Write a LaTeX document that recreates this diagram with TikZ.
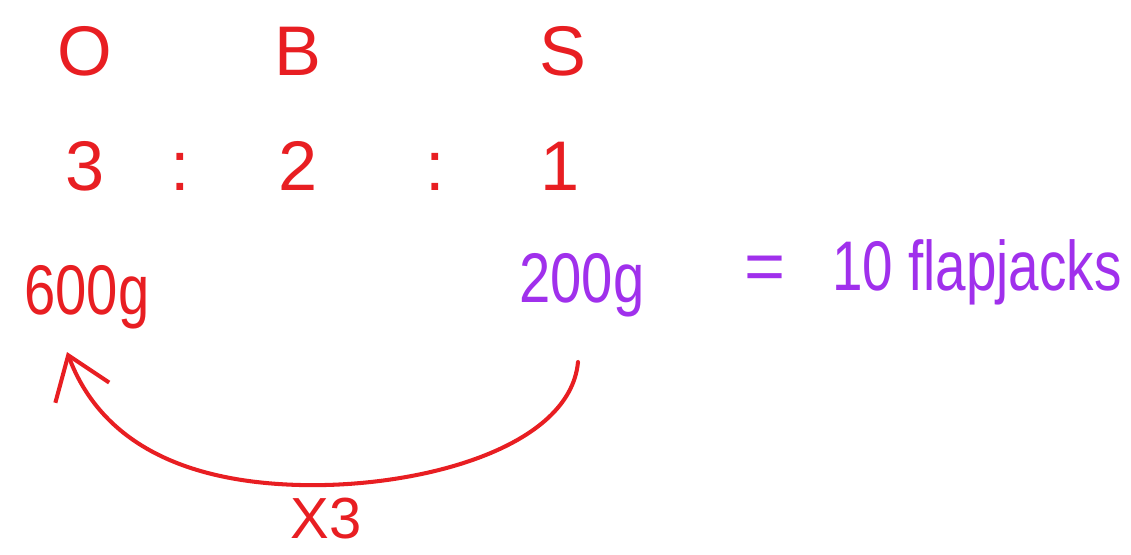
\documentclass[tikz,border=0pt]{standalone}
\usepackage{fontspec}
\setmainfont{Liberation Sans}
\usetikzlibrary{positioning, arrows.meta}

\definecolor{inkred}{RGB}{232,30,34}
\definecolor{inkpurple}{RGB}{160,48,236}

\begin{document}
\begin{tikzpicture}[
  x=0.02cm, y=-0.02cm,
  % Estilos de texto
  inkbig/.style={anchor=base, inner sep=0pt, font=\fontsize{40}{48}\selectfont},
  redtxt/.style={inkbig, text=inkred},
  purtxt/.style={inkbig, text=inkpurple},
  % Estilos de flechas
  ratioarrow/.style={draw=inkred, line width=2.3pt, line cap=round,
    -{Straight Barb[length=0.8cm, width=1.15cm, line width=2.3pt]}}
]
  \useasboundingbox (0,0) rectangle (1131,554);

  % ==========================================
  % ROW 1: INGREDIENT LETTERS
  % ==========================================
  \node[redtxt] (oat) at (85,75) {O};
  \node[redtxt] (butter) at (298,75) {B};
  \node[redtxt] (sugar) at (563,75) {S};

  % ==========================================
  % ROW 2: RATIO
  % ==========================================
  \node[redtxt] (r3) at (85,190) {3};
  \node[redtxt] (c1) at (180,190) {:};
  \node[redtxt] (r2) at (298,190) {2};
  \node[redtxt] (c2) at (435,190) {:};
  \node[redtxt] (r1) at (560,190) {1};

  % ==========================================
  % ROW 3: AMOUNTS
  % ==========================================
  \node[redtxt, xscale=0.8, transform shape] (g600) at (87,314) {600g};
  \node[purtxt, xscale=0.8, transform shape] (g200) at (582,302) {200g};
  \node[purtxt] (eq) at (765,290) {=};
  \node[purtxt, xscale=0.78, transform shape] (flap) at (977,290) {10 flapjacks};

  % Multiplier arrow
  \coordinate (arrfrom) at (578,362);
  \coordinate (arrbot) at (300,485);
  \coordinate (arrto) at (67,352);
  \draw[ratioarrow] (arrfrom) .. controls (570,448) and (420,488) .. (arrbot)
    .. controls (180,482) and (100,440) .. (arrto);
  \node[redtxt, font=\fontsize{33}{40}\selectfont] (times) at (326,538) {X3};

\end{tikzpicture}
\end{document}
